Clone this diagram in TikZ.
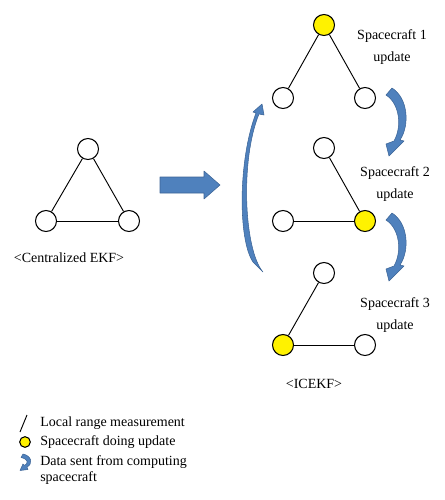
\documentclass[tikz,border=0pt]{standalone}
\usepackage{fontspec}
\setmainfont{Liberation Serif}
\usepackage{xcolor}
\usetikzlibrary{positioning}
\definecolor{arrowblue}{RGB}{79,129,189}
\definecolor{arrowedge}{RGB}{60,100,150}
\tikzstyle{craft} = [circle, minimum size=15.75pt, inner sep=0pt, draw=black, line width=0.8pt, fill=white]
\tikzstyle{updating} = [craft, fill=yellow]
\tikzstyle{link} = [line width=0.7pt]
\tikzstyle{bluearrow} = [fill=arrowblue, draw=arrowedge, line width=0.4pt, line join=round]
\tikzstyle{infotext} = [inner sep=0pt, font=\fontsize{10.5}{12}\selectfont]
\tikzstyle{steptext} = [inner sep=0pt, align=center, font=\fontsize{10.5}{16.5}\selectfont]

\begin{document}
\begin{tikzpicture}[x=0.75pt,y=-0.75pt]
\useasboundingbox (0,0) rectangle (444,500);
% centralized filter
\node (ctop) [craft] at (88,149) {};
\node (cleft) [craft] at (46,221) {};
\node (cright) [craft] at (129,221) {};
\draw [link] (ctop) -- (cleft);
\draw [link] (ctop) -- (cright);
\draw [link] (cleft) -- (cright);
\node (cname) [infotext] at (69,258) {<Centralized EKF>};
\draw [bluearrow] (160,177) -- (204,177) -- (204,171) -- (220,185) -- (204,199) -- (204,193) -- (160,193) -- cycle;
% spacecraft 1 update
\node (atop) [updating] at (324,25) {};
\node (aleft) [craft] at (283,98) {};
\node (aright) [craft] at (365,98) {};
\draw [link] (atop) -- (aleft);
\draw [link] (atop) -- (aright);
\node (atext) [steptext] at (392,47) {Spacecraft 1\\update};
% spacecraft 2 update
\node (btop) [craft] at (324,148) {};
\node (bleft) [craft] at (283,221) {};
\node (bright) [updating] at (365,221) {};
\draw [link] (btop) -- (bright);
\draw [link] (bleft) -- (bright);
\node (btext) [steptext] at (395,184) {Spacecraft 2\\update};
% spacecraft 3 update
\node (ctop3) [craft] at (324,273) {};
\node (cleft3) [updating] at (283,345) {};
\node (cright3) [craft] at (365,345) {};
\draw [link] (ctop3) -- (cleft3);
\draw [link] (cleft3) -- (cright3);
\node (ctext) [steptext] at (395,315) {Spacecraft 3\\update};
\node (iname) [infotext] at (314,384) {<ICEKF>};
% data passing arrows
\foreach \dy in {0,125} {
  \begin{scope}[shift={(0,\dy)}]
    \draw [bluearrow] (392,88) .. controls (408,98) and (410,125) .. (400,140) -- (404,141) -- (389,156) -- (386,144) -- (394,141) .. controls (402,127) and (400,104) .. (386,95) -- cycle;
  \end{scope}
}
\draw [bluearrow] (263,272) .. controls (244,250) and (240,160) .. (259,114) -- (264,115) -- (262,104) -- (253,112) -- (256,113) .. controls (238,160) and (238,240) .. (253,262) -- cycle;
% legend
\coordinate (linelow) at (20,432);
\coordinate (linehigh) at (27,415);
\draw [link] (linelow) -- (linehigh);
\node (ltext) [infotext, anchor=west] at (40,423) {Local range measurement};
\node (lcraft) [updating, minimum size=8pt] at (25,442) {};
\node (utext) [infotext, anchor=west] at (40,442) {Spacecraft doing update};
\draw [bluearrow] (23,454) .. controls (32,456) and (33,464) .. (27,467) -- (28,469.5) -- (20,470.5) -- (23,464) -- (24.5,465.5) .. controls (29,463) and (28,459) .. (21,457.5) -- cycle;
\node (dtext) [infotext, anchor=west, align=left] at (40,470) {Data sent from computing\\spacecraft};
\end{tikzpicture}
\end{document}
